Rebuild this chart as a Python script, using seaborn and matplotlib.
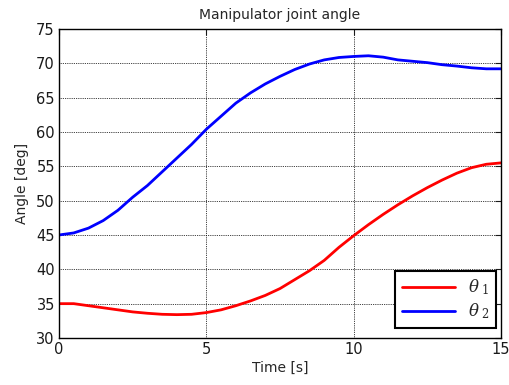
import matplotlib
matplotlib.use("Agg")
import matplotlib.pyplot as plt
import seaborn as sns
import pandas as pd

# Sample times [s]
time_s = [0.0, 0.5, 1.0, 1.5, 2.0, 2.5, 3.0, 3.5, 4.0, 4.5,
          5.0, 5.5, 6.0, 6.5, 7.0, 7.5, 8.0, 8.5, 9.0, 9.5,
          10.0, 10.5, 11.0, 11.5, 12.0, 12.5, 13.0, 13.5, 14.0, 14.5, 15.0]

# Joint 1 angle [deg]
theta1 = [35.0, 35.0, 34.7, 34.4, 34.1, 33.8, 33.6, 33.45, 33.4, 33.45,
          33.7, 34.1, 34.7, 35.4, 36.2, 37.2, 38.5, 39.8, 41.3, 43.2,
          44.9, 46.5, 48.0, 49.4, 50.7, 51.9, 53.0, 54.0, 54.8, 55.3, 55.5]

# Joint 2 angle [deg]
theta2 = [45.0, 45.3, 46.0, 47.1, 48.6, 50.5, 52.2, 54.2, 56.2, 58.2,
          60.4, 62.3, 64.2, 65.7, 67.0, 68.1, 69.1, 69.9, 70.5, 70.85,
          71.0, 71.1, 70.9, 70.5, 70.3, 70.1, 69.8, 69.6, 69.35, 69.2, 69.2]

series_labels = [r"$\theta_{\;1}$", r"$\theta_{\;2}$"]
series_colors = ["#ff0000", "#0000ff"]
x_ticks = [0, 5, 10, 15]
y_ticks = [30, 35, 40, 45, 50, 55, 60, 65, 70, 75]

df = pd.DataFrame({"t": time_s, "th1": theta1, "th2": theta2})

sns.set_style("white")
plt.rcParams["font.family"] = ["DejaVu Sans"]
plt.rcParams["mathtext.fontset"] = "dejavuserif"

fig = plt.figure(figsize=(5.10, 3.85), dpi=100)
ax = fig.add_axes([0.1157, 0.1221, 0.8667, 0.8026])

sns.lineplot(data=df, x="t", y="th1", ax=ax, color=series_colors[0],
             linewidth=2.0, label=series_labels[0])
sns.lineplot(data=df, x="t", y="th2", ax=ax, color=series_colors[1],
             linewidth=2.0, label=series_labels[1])

ax.set_xlim(0, 15)
ax.set_ylim(30, 75)
ax.set_xticks(x_ticks)
ax.set_yticks(y_ticks)
ax.tick_params(direction="in", length=4, width=0.8, top=True, right=True,
               labelsize=10.5, colors="#1a1a1a", pad=3)
ax.grid(True, color="black", linestyle=(0, (1, 1.2)), linewidth=0.6)
for s in ax.spines.values():
    s.set_color("black")
    s.set_linewidth(1.0)

ax.set_title("Manipulator joint angle", fontsize=10, pad=7)
ax.set_xlabel("Time [s]", fontsize=10, labelpad=3)
ax.set_ylabel("Angle [deg]", fontsize=10, labelpad=5)

leg = ax.legend(loc="lower right", bbox_to_anchor=(0.989, 0.033),
                fontsize=12, handlelength=3.2, handletextpad=0.8,
                borderpad=0.4, labelspacing=0.25, fancybox=False,
                framealpha=1.0, edgecolor="black", borderaxespad=0)
leg.get_frame().set_linewidth(1.5)

fig.savefig("out.png", dpi=100)
